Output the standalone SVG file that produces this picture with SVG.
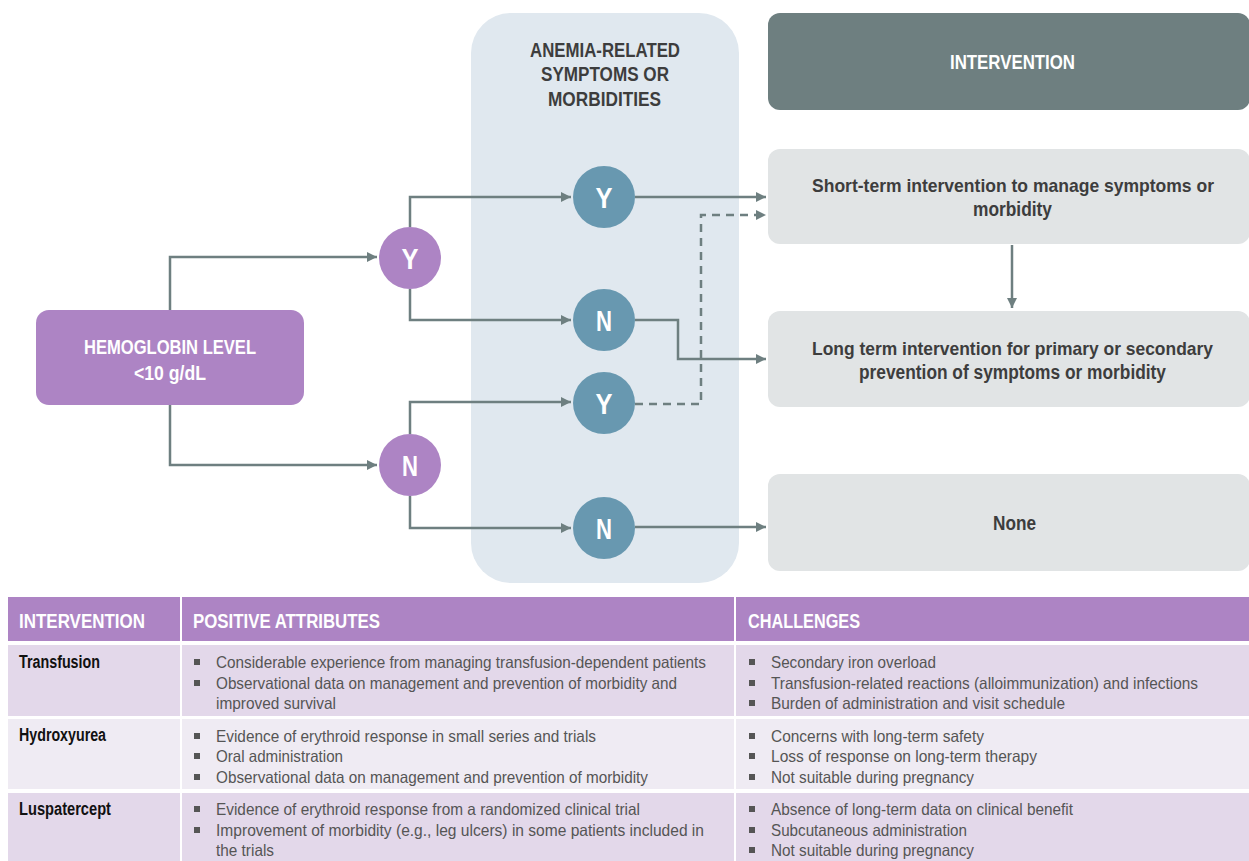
<svg xmlns="http://www.w3.org/2000/svg" width="1249" height="861" viewBox="0 0 1249 861">
<defs>
<marker id="ah" viewBox="0 0 10 10" refX="10" refY="5" markerWidth="10" markerHeight="10" markerUnits="userSpaceOnUse" orient="auto">
<path d="M0,0 L10,5 L0,10 z" fill="#6e7f80"/>
</marker>
<style>
.ln{fill:none;stroke:#6e7f80;stroke-width:2.5;marker-end:url(#ah)}
.dash{stroke-dasharray:8,6}
.b{font-family:"Liberation Sans",Arial,sans-serif;font-weight:bold}
.r{font-family:"Liberation Sans",Arial,sans-serif;font-size:16.5px;fill:#555}
.wh{fill:#fff}
.dk{fill:#3d3d3d}
.cl{font-family:"Liberation Sans",Arial,sans-serif;font-weight:bold;font-size:30px;fill:#fff}
.pc{fill:#ad84c4}
.bc{fill:#6898b0}
.gb{fill:#e1e4e5}
.bul{fill:#555}
</style>
</defs>
<rect width="1249" height="861" fill="#fff"/>

<g id="anemia-panel">
<rect x="471" y="13" width="268" height="570" rx="40" fill="#e0e8ef"/>
<text class="b dk" font-size="20" x="530" y="57" textLength="150" lengthAdjust="spacingAndGlyphs">ANEMIA-RELATED</text>
<text class="b dk" font-size="20" x="541" y="81" textLength="128" lengthAdjust="spacingAndGlyphs">SYMPTOMS OR</text>
<text class="b dk" font-size="20" x="548" y="106" textLength="113" lengthAdjust="spacingAndGlyphs">MORBIDITIES</text>
</g>

<g id="intervention-header">
<rect x="768" y="13" width="482" height="97" rx="12" fill="#6e7f80"/>
<text class="b wh" font-size="20" x="950" y="69" textLength="125" lengthAdjust="spacingAndGlyphs">INTERVENTION</text>
</g>

<g id="connectors">
<path class="ln" d="M170,310 V257 H377"/>
<path class="ln" d="M170,405 V465 H377"/>
<path class="ln" d="M410,227 V197 H571"/>
<path class="ln" d="M410,289 V320 H571"/>
<path class="ln" d="M410,434 V402 H571"/>
<path class="ln" d="M410,496 V528 H571"/>
<path class="ln" d="M635,197 H766"/>
<path class="ln" d="M635,320 H678 V359 H766"/>
<path class="ln dash" d="M635,404 H701 V215 H766"/>
<path class="ln" d="M635,527 H766"/>
<path class="ln" d="M1012,245 V308"/>
</g>

<g id="hemoglobin">
<rect x="36" y="310" width="268" height="95" rx="13" class="pc"/>
<text class="b wh" font-size="20" x="84" y="354" textLength="172" lengthAdjust="spacingAndGlyphs">HEMOGLOBIN LEVEL</text>
<text class="b wh" font-size="20" x="134" y="380" textLength="72" lengthAdjust="spacingAndGlyphs">&lt;10 g/dL</text>
</g>

<g id="hb-yes"><circle cx="410" cy="258" r="31" class="pc"/><text class="cl" x="401.5" y="269" textLength="17" lengthAdjust="spacingAndGlyphs">Y</text></g>
<g id="hb-no"><circle cx="410" cy="465" r="31" class="pc"/><text class="cl" x="402" y="476" textLength="16" lengthAdjust="spacingAndGlyphs">N</text></g>
<g id="sym-yes-1"><circle cx="604" cy="197" r="31" class="bc"/><text class="cl" x="595.5" y="208" textLength="17" lengthAdjust="spacingAndGlyphs">Y</text></g>
<g id="sym-no-1"><circle cx="604" cy="320" r="31" class="bc"/><text class="cl" x="596" y="331" textLength="16" lengthAdjust="spacingAndGlyphs">N</text></g>
<g id="sym-yes-2"><circle cx="604" cy="403" r="31" class="bc"/><text class="cl" x="595.5" y="414" textLength="17" lengthAdjust="spacingAndGlyphs">Y</text></g>
<g id="sym-no-2"><circle cx="604" cy="528" r="31" class="bc"/><text class="cl" x="596" y="539" textLength="16" lengthAdjust="spacingAndGlyphs">N</text></g>

<g id="short-term">
<rect x="768" y="149" width="482" height="95" rx="12" class="gb"/>
<text class="b dk" font-size="18.5" x="1013" y="192" text-anchor="middle" textLength="402" lengthAdjust="spacingAndGlyphs">Short-term intervention to manage symptoms or</text>
<text class="b dk" font-size="20" x="973" y="216" textLength="79" lengthAdjust="spacingAndGlyphs">morbidity</text>
</g>
<g id="long-term">
<rect x="768" y="311" width="482" height="96" rx="12" class="gb"/>
<text class="b dk" font-size="18.5" x="1012.5" y="355" text-anchor="middle" textLength="401" lengthAdjust="spacingAndGlyphs">Long term intervention for primary or secondary</text>
<text class="b dk" font-size="20" x="859" y="379" textLength="307" lengthAdjust="spacingAndGlyphs">prevention of symptoms or morbidity</text>
</g>
<g id="none">
<rect x="768" y="474" width="482" height="97" rx="12" class="gb"/>
<text class="b dk" font-size="20" x="993" y="530" textLength="43" lengthAdjust="spacingAndGlyphs">None</text>
</g>

<g id="table">
<rect x="8" y="597" width="1241" height="44" class="pc"/>
<rect x="8" y="645" width="1241" height="71" fill="#e3d8ea"/>
<rect x="8" y="719" width="1241" height="70" fill="#efebf3"/>
<rect x="8" y="793" width="1241" height="68" fill="#e3d8ea"/>
<rect x="180" y="597" width="2" height="264" fill="#fff"/>
<rect x="734" y="597" width="2" height="264" fill="#fff"/>

<text class="b wh" font-size="19.5" x="19" y="628" textLength="126" lengthAdjust="spacingAndGlyphs">INTERVENTION</text>
<text class="b wh" font-size="19.5" x="193" y="628" textLength="187" lengthAdjust="spacingAndGlyphs">POSITIVE ATTRIBUTES</text>
<text class="b wh" font-size="19.5" x="748" y="628" textLength="112" lengthAdjust="spacingAndGlyphs">CHALLENGES</text>

<text class="b" fill="#111" font-size="17.5" x="19" y="668" textLength="81" lengthAdjust="spacingAndGlyphs">Transfusion</text>
<text class="b" fill="#111" font-size="17.5" x="19" y="741" textLength="87" lengthAdjust="spacingAndGlyphs">Hydroxyurea</text>
<text class="b" fill="#111" font-size="17.5" x="19" y="815" textLength="92" lengthAdjust="spacingAndGlyphs">Luspatercept</text>

<g class="bul">
<rect x="194" y="659" width="6" height="6"/><rect x="194" y="680" width="6" height="6"/>
<rect x="194" y="733" width="6" height="6"/><rect x="194" y="753" width="6" height="6"/><rect x="194" y="774" width="6" height="6"/>
<rect x="194" y="806" width="6" height="6"/><rect x="194" y="827" width="6" height="6"/>
<rect x="749" y="659" width="6" height="6"/><rect x="749" y="680" width="6" height="6"/><rect x="749" y="700" width="6" height="6"/>
<rect x="749" y="733" width="6" height="6"/><rect x="749" y="753" width="6" height="6"/><rect x="749" y="774" width="6" height="6"/>
<rect x="749" y="806" width="6" height="6"/><rect x="749" y="827" width="6" height="6"/><rect x="749" y="847" width="6" height="6"/>
</g>

<text class="r" x="216" y="668" textLength="490" lengthAdjust="spacingAndGlyphs">Considerable experience from managing transfusion-dependent patients</text>
<text class="r" x="216" y="689" textLength="461" lengthAdjust="spacingAndGlyphs">Observational data on management and prevention of morbidity and</text>
<text class="r" x="216" y="709" textLength="120" lengthAdjust="spacingAndGlyphs">improved survival</text>
<text class="r" x="216" y="742" textLength="380" lengthAdjust="spacingAndGlyphs">Evidence of erythroid response in small series and trials</text>
<text class="r" x="216" y="762" textLength="127" lengthAdjust="spacingAndGlyphs">Oral administration</text>
<text class="r" x="216" y="783" textLength="432" lengthAdjust="spacingAndGlyphs">Observational data on management and prevention of morbidity</text>
<text class="r" x="216" y="815" textLength="424" lengthAdjust="spacingAndGlyphs">Evidence of erythroid response from a randomized clinical trial</text>
<text class="r" x="216" y="836" textLength="488" lengthAdjust="spacingAndGlyphs">Improvement of morbidity (e.g., leg ulcers) in some patients included in</text>
<text class="r" x="216" y="856" textLength="58" lengthAdjust="spacingAndGlyphs">the trials</text>

<text class="r" x="771" y="668" textLength="165" lengthAdjust="spacingAndGlyphs">Secondary iron overload</text>
<text class="r" x="771" y="689" textLength="427" lengthAdjust="spacingAndGlyphs">Transfusion-related reactions (alloimmunization) and infections</text>
<text class="r" x="771" y="709" textLength="294" lengthAdjust="spacingAndGlyphs">Burden of administration and visit schedule</text>
<text class="r" x="771" y="742" textLength="213" lengthAdjust="spacingAndGlyphs">Concerns with long-term safety</text>
<text class="r" x="771" y="762" textLength="266" lengthAdjust="spacingAndGlyphs">Loss of response on long-term therapy</text>
<text class="r" x="771" y="783" textLength="203" lengthAdjust="spacingAndGlyphs">Not suitable during pregnancy</text>
<text class="r" x="771" y="815" textLength="302" lengthAdjust="spacingAndGlyphs">Absence of long-term data on clinical benefit</text>
<text class="r" x="771" y="836" textLength="196" lengthAdjust="spacingAndGlyphs">Subcutaneous administration</text>
<text class="r" x="771" y="856" textLength="203" lengthAdjust="spacingAndGlyphs">Not suitable during pregnancy</text>
</g>
</svg>
